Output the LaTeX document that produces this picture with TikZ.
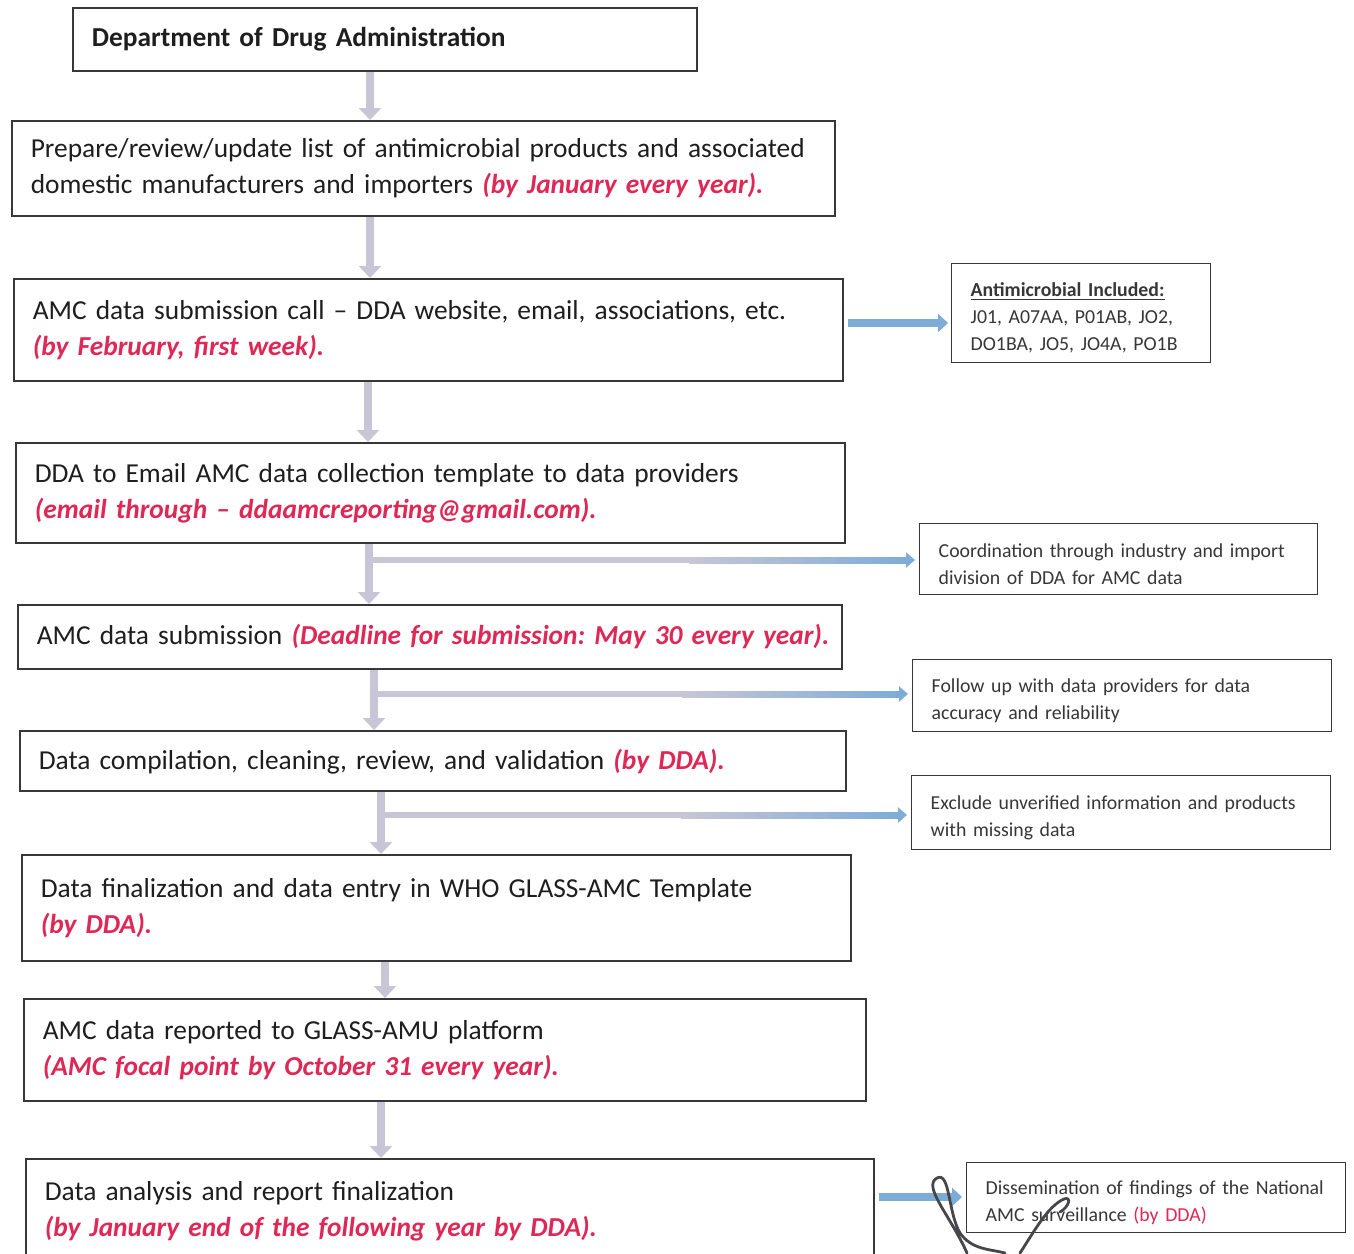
\documentclass[tikz,border=0pt]{standalone}
\usepackage{fontspec}
\setmainfont{Carlito}
\usetikzlibrary{arrows.meta,calc}
\definecolor{redtxt}{RGB}{222,40,85}
\definecolor{txt}{RGB}{30,30,30}
\definecolor{sidetxt}{RGB}{55,55,55}
\definecolor{boxline}{RGB}{55,55,55}
\definecolor{agray}{RGB}{200,198,214}
\definecolor{ablue}{RGB}{125,172,215}
\definecolor{sig}{RGB}{70,70,75}
\newcommand{\rt}[1]{\textcolor{redtxt}{\bfseries\itshape #1}}
\newcommand{\lowstrut}{\rule{0pt}{12pt}}
\frenchspacing
\begin{document}
\begin{tikzpicture}[x=0.5pt,y=-0.5pt,
  mainbox/.style={draw=boxline, line width=0.8pt, rectangle, anchor=north west,
    inner xsep=9.5pt, inner ysep=0pt, align=left, text=txt,
    font=\fontsize{13.7}{18}\selectfont\frenchspacing},
  sidebox/.style={draw=boxline, line width=0.7pt, rectangle, anchor=north west,
    inner xsep=9.5pt, inner ysep=0pt, align=left, text=sidetxt,
    font=\fontsize{9.9}{13.5}\selectfont\frenchspacing},
  downarrow/.style={line width=4pt, draw=agray, -{Triangle[length=6pt,width=11pt,fill=agray]}},
  longarrow/.style={line width=3pt, draw=agray, -{Triangle[length=4.5pt,width=7.5pt,fill=ablue,color=ablue]}},
  bluearrow/.style={line width=4pt, draw=ablue, -{Triangle[length=5pt,width=9pt,fill=ablue]}},
  sigline/.style={draw=sig, line width=1.4pt, line cap=round}
]
\useasboundingbox (0,0) rectangle (1354,1253);
\fill[white] (0,0) rectangle (1354,1253);

% main boxes
\node[mainbox, minimum width=312pt, minimum height=31.5pt, text width=293pt] (b1) at (72,7)
  {\bfseries Department of Drug Administration};
\node[mainbox, minimum width=411.5pt, minimum height=47.5pt, text width=392.5pt] (b2) at (11,120)
  {Prepare/review/update list of antimicrobial products and associated\\
   domestic manufacturers and importers \rt{(by January every year).}};
\node[mainbox, minimum width=414.5pt, minimum height=51pt, text width=395.5pt] (b3) at (13,278)
  {AMC data submission call -- DDA website, email, associations, etc.\\
   \rt{(by February, first week).}};
\node[mainbox, minimum width=414.5pt, minimum height=50pt, text width=395.5pt] (b4) at (15,442)
  {DDA to Email AMC data collection template to data providers\\
   \rt{(email through -- ddaamcreporting@gmail.com).}};
\node[mainbox, minimum width=412pt, minimum height=32pt, text width=393pt] (b5) at (17,604)
  {\mbox{AMC data submission \rt{(Deadline for submission: May 30 every year).}}};
\node[mainbox, minimum width=413pt, minimum height=30pt, text width=394pt] (b6) at (19,730)
  {\rule{0pt}{11.5pt}Data compilation, cleaning, review, and validation \rt{(by DDA).}};
\node[mainbox, minimum width=414.5pt, minimum height=53pt, text width=395.5pt] (b7) at (21,854)
  {Data finalization and data entry in WHO GLASS-AMC Template\\
   \rt{(by DDA).}};
\node[mainbox, minimum width=421pt, minimum height=51pt, text width=402pt] (b8) at (23,998)
  {AMC data reported to GLASS-AMU platform\\
   \rt{(AMC focal point by October 31 every year).}};
\node[mainbox, minimum width=424pt, minimum height=52pt, text width=405pt] (b9) at (25,1158)
  {Data analysis and report finalization\\
   \rt{(by January end of the following year by DDA).}};

% side boxes
\node[sidebox, minimum width=129.5pt, minimum height=49.5pt, text width=110.5pt] (sA) at (951,263)
  {\lowstrut\textbf{\underline{Antimicrobial Included:}}\\
   J01, A07AA, P01AB, JO2,\\ DO1BA, JO5, JO4A, PO1B};
\node[sidebox, minimum width=199pt, minimum height=35.5pt, text width=180pt] (sB) at (919,523)
  {\lowstrut Coordination through industry and import\\ division of DDA for AMC data};
\node[sidebox, minimum width=209.5pt, minimum height=36pt, text width=190.5pt] (sC) at (912,659)
  {\lowstrut Follow up with data providers for data\\ accuracy and reliability};
\node[sidebox, minimum width=209.5pt, minimum height=37pt, text width=190.5pt] (sD) at (911,775)
  {\lowstrut Exclude unverified information and products\\ with missing data};
\node[sidebox, minimum width=189.5pt, minimum height=35pt, text width=170.5pt] (sE) at (966,1162)
  {\lowstrut Dissemination of findings of the National\\ AMC surveillance \textcolor{redtxt}{(by DDA)}};

% x positions of the down arrows
\coordinate (c1) at (370,0);
\coordinate (c2) at (370,0);
\coordinate (c3) at (368,0);
\coordinate (c4) at (369,0);
\coordinate (c5) at (374,0);
\coordinate (c6) at (381,0);
\coordinate (c7) at (385,0);
\coordinate (c8) at (381,0);
% y positions of the side arrows
\coordinate (yA) at (0,323);
\coordinate (yB) at (0,560);
\coordinate (yC) at (0,694);
\coordinate (yD) at (0,815);
\coordinate (yE) at (0,1197);

% down arrows
\draw[downarrow] (b1.south -| c1) -- (b2.north -| c1);
\draw[downarrow] (b2.south -| c2) -- (b3.north -| c2);
\draw[downarrow] (b3.south -| c3) -- (b4.north -| c3);
\draw[downarrow] (b4.south -| c4) -- (b5.north -| c4);
\draw[downarrow] (b5.south -| c5) -- (b6.north -| c5);
\draw[downarrow] (b6.south -| c6) -- (b7.north -| c6);
\draw[downarrow] (b7.south -| c7) -- (b8.north -| c7);
\draw[downarrow] (b8.south -| c8) -- (b9.north -| c8);

% side arrows
\draw[bluearrow, shorten <=2pt, shorten >=1.5pt] (b3.east |- yA) -- (sA.west |- yA);
\draw[longarrow, shorten <=2pt, shorten >=2pt] (c4 |- yB) -- (sB.west |- yB);
\draw[longarrow, shorten <=2pt, shorten >=2pt] (c5 |- yC) -- (sC.west |- yC);
\draw[longarrow, shorten <=2pt, shorten >=2pt] (c6 |- yD) -- (sD.west |- yD);
\draw[bluearrow, shorten <=2pt, shorten >=2pt] (b9.east |- yE) -- (sE.west |- yE);
% blue fade at the ends of the long arrows
\shade[left color=agray, right color=ablue] ($(sB.west |- yB)+(-230,-3)$) rectangle ($(sB.west |- yB)+(-12,3)$);
\shade[left color=agray, right color=ablue] ($(sC.west |- yC)+(-230,-3)$) rectangle ($(sC.west |- yC)+(-12,3)$);
\shade[left color=agray, right color=ablue] ($(sD.west |- yD)+(-230,-3)$) rectangle ($(sD.west |- yD)+(-12,3)$);

% handwritten mark
\draw[sigline] (967,1253) .. controls (950,1215) and (922,1186) .. (937,1178)
  .. controls (950,1171) and (948,1213) .. (960,1233)
  .. controls (972,1250) and (990,1249) .. (1005,1253);
\draw[sigline] (1020,1253) .. controls (1035,1230) and (1048,1206) .. (1064,1199)
  .. controls (1072,1196) and (1069,1207) .. (1060,1212);
\end{tikzpicture}
\end{document}
